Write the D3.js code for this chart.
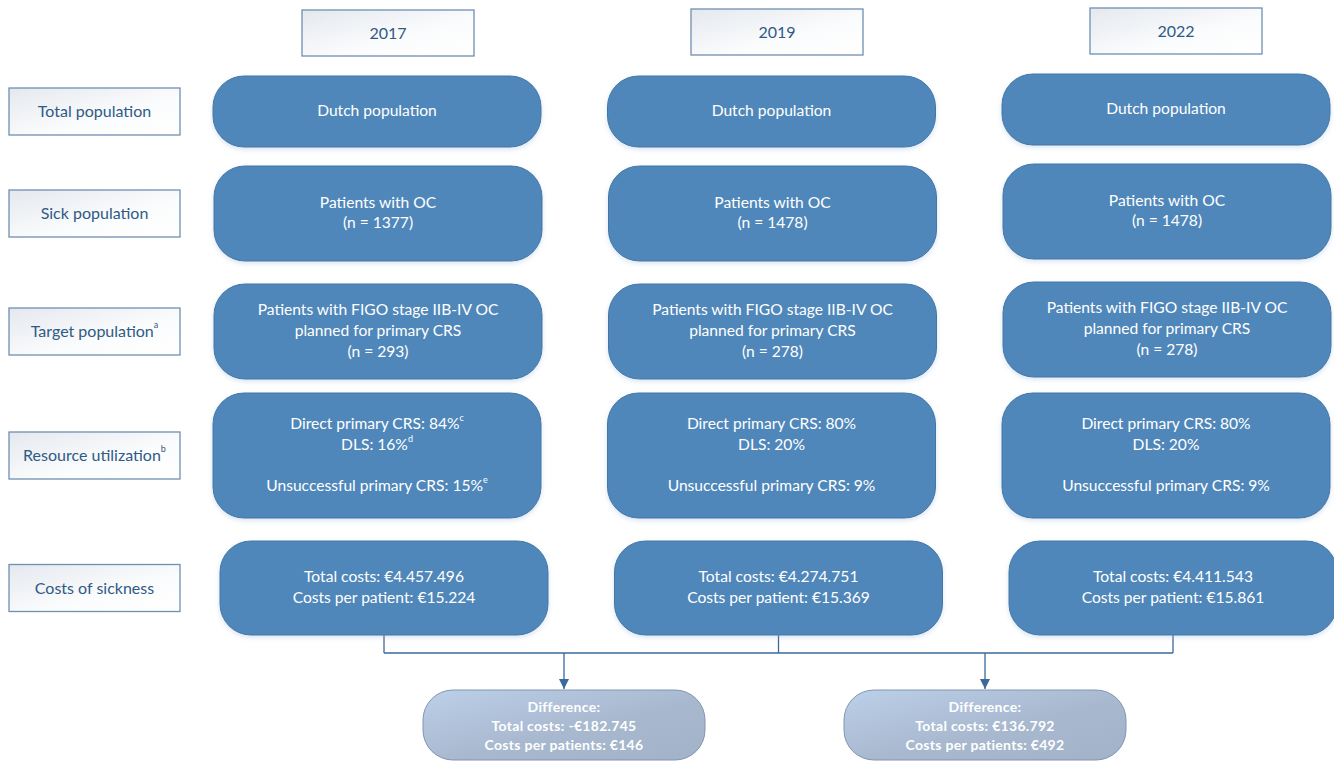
<!DOCTYPE html>
<html>
<head>
<meta charset="utf-8">
<script src="https://cdn.jsdelivr.net/npm/d3@7"></script>
<style>
  body { margin: 0; background: #fff; }
  text { font-family: Lato, "Open Sans", sans-serif; }
</style>
</head>
<body>
<div class="chart"></div>
<script>
var svgWidth = 1334;
var svgHeight = 761;

// data
var years = ["2017", "2019", "2022"];
var rowLabels = ["Total population", "Sick population", "Target population", "Resource utilization", "Costs of sickness"];
var rowLabelSup = ["", "", "a", "b", ""];
var rowKeys = ["total", "sick", "target", "resource", "costs"];

// each line: [text, superscript]
var col2017 = [
  [["Dutch population", ""]],
  [["Patients with OC", ""], ["(n = 1377)", ""]],
  [["Patients with FIGO stage IIB-IV OC", ""], ["planned for primary CRS", ""], ["(n = 293)", ""]],
  [["Direct primary CRS: 84%", "c"], ["DLS: 16%", "d"], ["", ""], ["Unsuccessful primary CRS: 15%", "e"]],
  [["Total costs: \u20ac4.457.496", ""], ["Costs per patient: \u20ac15.224", ""]]
];
var col2019 = [
  [["Dutch population", ""]],
  [["Patients with OC", ""], ["(n = 1478)", ""]],
  [["Patients with FIGO stage IIB-IV OC", ""], ["planned for primary CRS", ""], ["(n = 278)", ""]],
  [["Direct primary CRS: 80%", ""], ["DLS: 20%", ""], ["", ""], ["Unsuccessful primary CRS: 9%", ""]],
  [["Total costs: \u20ac4.274.751", ""], ["Costs per patient: \u20ac15.369", ""]]
];
var col2022 = [
  [["Dutch population", ""]],
  [["Patients with OC", ""], ["(n = 1478)", ""]],
  [["Patients with FIGO stage IIB-IV OC", ""], ["planned for primary CRS", ""], ["(n = 278)", ""]],
  [["Direct primary CRS: 80%", ""], ["DLS: 20%", ""], ["", ""], ["Unsuccessful primary CRS: 9%", ""]],
  [["Total costs: \u20ac4.411.543", ""], ["Costs per patient: \u20ac15.861", ""]]
];
var columns = [col2017, col2019, col2022];

var differences = [
  ["Difference:", "Total costs: -\u20ac182.745", "Costs per patients: \u20ac146"],
  ["Difference:", "Total costs: \u20ac136.792", "Costs per patients: \u20ac492"]
];

// layout
var colX = d3.scalePoint().domain(years).range([377, 1166]);
var rowY = d3.scaleOrdinal().domain(rowKeys).range([111.5, 213.5, 331.5, 455.5, 588]);
var rowH = d3.scaleOrdinal().domain(rowKeys).range([71, 95, 95, 125, 94]);
var rowDx = d3.scaleOrdinal().domain(rowKeys).range([0, 1, 1, 0, 7]);
var colDy = [0, 0, -2]; // last column sits a touch higher in the upper rows
var boxW = 328;
var lineH = 20.7;
var fontSize = 15.6;

var svg = d3.select(".chart").append("svg")
  .attr("width", svgWidth)
  .attr("height", svgHeight);

var defs = svg.append("defs");

var headGrad = defs.append("linearGradient").attr("id", "headGrad")
  .attr("x1", "0%").attr("y1", "0%").attr("x2", "100%").attr("y2", "100%");
headGrad.append("stop").attr("offset", "0%").attr("stop-color", "#e4e8ee");
headGrad.append("stop").attr("offset", "60%").attr("stop-color", "#fbfcfd");
headGrad.append("stop").attr("offset", "100%").attr("stop-color", "#ffffff");

var diffGrad = defs.append("linearGradient").attr("id", "diffGrad")
  .attr("x1", "0%").attr("y1", "0%").attr("x2", "100%").attr("y2", "100%");
diffGrad.append("stop").attr("offset", "0%").attr("stop-color", "#bcd0e9");
diffGrad.append("stop").attr("offset", "55%").attr("stop-color", "#a8b8cf");
diffGrad.append("stop").attr("offset", "100%").attr("stop-color", "#a2b2c8");

var shadow = defs.append("filter").attr("id", "shadow")
  .attr("x", "-10%").attr("y", "-10%").attr("width", "120%").attr("height", "130%");
shadow.append("feDropShadow")
  .attr("dx", 0).attr("dy", 2).attr("stdDeviation", 2.5)
  .attr("flood-color", "#8fb0d8").attr("flood-opacity", 0.35);

defs.append("marker").attr("id", "arrow")
  .attr("viewBox", "0 0 10 10").attr("refX", 10).attr("refY", 5)
  .attr("markerWidth", 10).attr("markerHeight", 10)
  .attr("markerUnits", "userSpaceOnUse").attr("orient", "auto")
  .append("path").attr("d", "M0,0 L10,5 L0,10 Z").attr("fill", "#3a6a9a");

// year headers
var headerY = [[10, 56], [9, 55], [8, 54]];
var headerCx = [388, 777, 1176];
var headers = svg.append("g").selectAll("g").data(years).enter().append("g");
headers.append("rect")
  .attr("x", (d, i) => headerCx[i] - 86)
  .attr("y", (d, i) => headerY[i][0])
  .attr("width", 172).attr("height", 46)
  .attr("fill", "url(#headGrad)")
  .attr("stroke", "#6f90b2").attr("stroke-width", 1.3);
headers.append("text")
  .attr("x", (d, i) => headerCx[i])
  .attr("y", (d, i) => headerY[i][0] + 22.5)
  .attr("text-anchor", "middle").attr("dominant-baseline", "central")
  .attr("fill", "#2f5a85").style("font-size", "16px")
  .text(d => d);

// row labels
var labels = svg.append("g").selectAll("g").data(rowLabels).enter().append("g");
labels.append("rect")
  .attr("x", 9).attr("y", (d, i) => rowY(rowKeys[i]) - 23.5)
  .attr("width", 171).attr("height", 47)
  .attr("fill", "url(#headGrad)")
  .attr("stroke", "#6f90b2").attr("stroke-width", 1.3);
var labelText = labels.append("text")
  .attr("x", 94.5).attr("y", (d, i) => rowY(rowKeys[i]) - 1.5)
  .attr("text-anchor", "middle").attr("dominant-baseline", "central")
  .attr("fill", "#2f5a85").style("font-size", "16px");
labelText.append("tspan").text(d => d);
labelText.append("tspan")
  .attr("dy", -6).style("font-size", "9px")
  .text((d, i) => rowLabelSup[i]);

// connectors
var lineColor = "#3a6a9a";
var costsBottom = rowY("costs") + rowH("costs") / 2;
var busY = 653;
var conn = svg.append("g").attr("stroke", lineColor).attr("stroke-width", 1.3).attr("fill", "none");
years.forEach(function(y) {
  conn.append("line")
    .attr("x1", colX(y) + rowDx("costs")).attr("x2", colX(y) + rowDx("costs"))
    .attr("y1", costsBottom).attr("y2", busY);
});
conn.append("line")
  .attr("x1", colX(years[0]) + rowDx("costs")).attr("x2", colX(years[2]) + rowDx("costs"))
  .attr("y1", busY).attr("y2", busY);

var diffCx = [564, 985];
diffCx.forEach(function(cx) {
  conn.append("line")
    .attr("x1", cx).attr("x2", cx)
    .attr("y1", busY).attr("y2", 689)
    .attr("marker-end", "url(#arrow)");
});

// main boxes
columns.forEach(function(col, ci) {
  var cx = colX(years[ci]);
  var g = svg.append("g");
  col.forEach(function(lines, ri) {
    var key = rowKeys[ri];
    var x = cx + rowDx(key);
    var cy = rowY(key) + (ri < 3 ? colDy[ci] : 0);
    var h = rowH(key);
    g.append("rect")
      .attr("x", x - boxW / 2).attr("y", cy - h / 2)
      .attr("width", boxW).attr("height", h)
      .attr("rx", 31).attr("ry", 31)
      .attr("fill", "#4f87ba")
      .attr("stroke", "#4577a6").attr("stroke-width", 1)
      .attr("filter", "url(#shadow)");
    var y0 = cy - 1.5 - (lines.length - 1) * lineH / 2;
    lines.forEach(function(ln, li) {
      var t = g.append("text")
        .attr("x", x).attr("y", y0 + li * lineH)
        .attr("text-anchor", "middle").attr("dominant-baseline", "central")
        .attr("fill", "#ffffff").style("font-size", fontSize + "px");
      t.append("tspan").text(ln[0]);
      if (ln[1]) {
        t.append("tspan").attr("dy", -6).style("font-size", "9px").text(ln[1]);
      }
    });
  });
});

// difference boxes
var diffs = svg.append("g").selectAll("g").data(differences).enter().append("g");
diffs.append("rect")
  .attr("x", (d, i) => diffCx[i] - 141).attr("y", 690)
  .attr("width", 282).attr("height", 70)
  .attr("rx", 30).attr("ry", 30)
  .attr("fill", "url(#diffGrad)")
  .attr("stroke", "#8295b0").attr("stroke-width", 1);
diffs.each(function(d, i) {
  var g = d3.select(this);
  d.forEach(function(line, li) {
    g.append("text")
      .attr("x", diffCx[i]).attr("y", 706 + li * 19)
      .attr("text-anchor", "middle").attr("dominant-baseline", "central")
      .attr("fill", "#ffffff").style("font-size", "14px").style("font-weight", "bold")
      .style("letter-spacing", "0.3px")
      .text(line);
  });
});
</script>
</body>
</html>
